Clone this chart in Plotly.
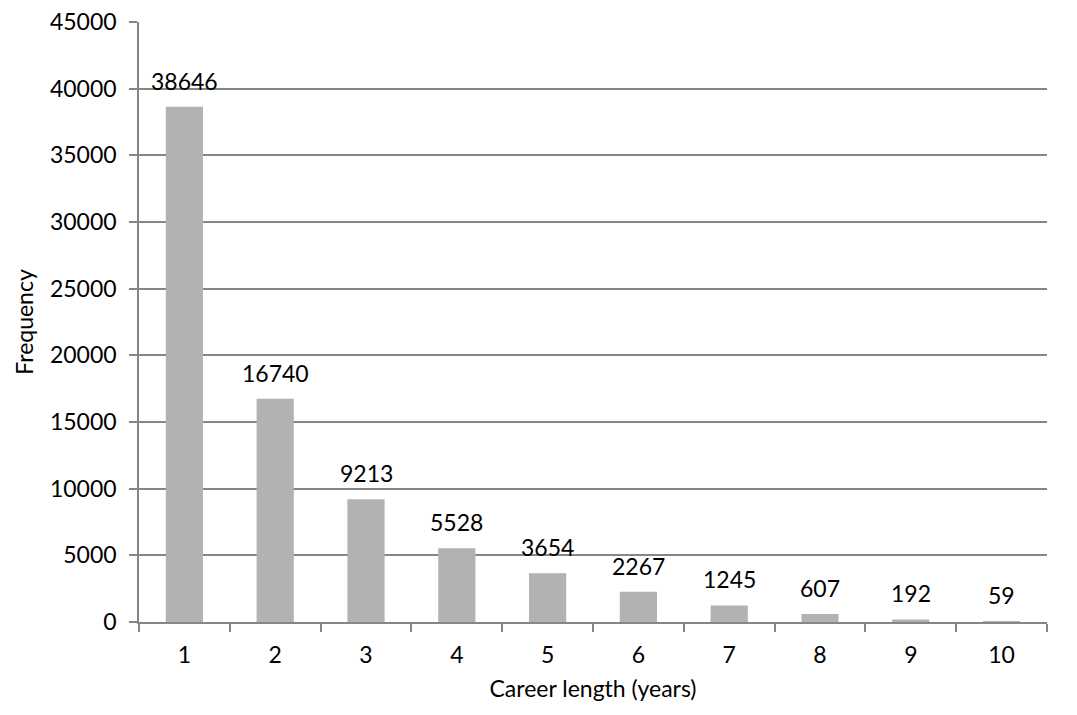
import plotly.graph_objects as go

# Career length distribution
career_years = ["1", "2", "3", "4", "5", "6", "7", "8", "9", "10"]
frequency = [38646, 16740, 9213, 5528, 3654, 2267, 1245, 607, 192, 59]
y_ticks = [0, 5000, 10000, 15000, 20000, 25000, 30000, 35000, 40000, 45000]

FONT = "Lato, Calibri, Carlito, sans-serif"
FONT_SIZE = 23
AXIS_GREY = "#868686"

fig = go.Figure(
    go.Bar(
        x=career_years,
        y=frequency,
        marker=dict(color="#B2B2B2", line=dict(width=0)),
        width=0.41,
        hoverinfo="x+y",
    )
)

# value labels above each bar (category axis positions are 0-based indices)
for idx, val in enumerate(frequency):
    fig.add_annotation(
        x=idx, y=val, text=str(val), showarrow=False,
        yanchor="middle", yshift=26,
        font=dict(family=FONT, size=FONT_SIZE, color="#000000"),
    )

fig.update_layout(
    width=1077, height=715,
    margin=dict(l=139, r=30, t=22, b=93, autoexpand=False),
    plot_bgcolor="white", paper_bgcolor="white",
    showlegend=False,
    font=dict(family=FONT, size=FONT_SIZE, color="#000000"),
    xaxis=dict(
        type="category",
        automargin=False,
        tickson="boundaries",
        ticks="outside", ticklen=8, tickwidth=1.5, tickcolor=AXIS_GREY,
        ticklabelstandoff=12,
        showline=True, linecolor=AXIS_GREY, linewidth=1.5,
        showgrid=False,
        tickfont=dict(family=FONT, size=FONT_SIZE),
        title=dict(text="Career length (years)", font=dict(family=FONT, size=FONT_SIZE), standoff=14),
    ),
    yaxis=dict(
        range=[0, 45000],
        automargin=False,
        tickvals=y_ticks,
        tickformat="d",
        ticks="outside", ticklen=8, tickwidth=1.5, tickcolor=AXIS_GREY,
        ticklabelstandoff=8,
        showline=True, linecolor=AXIS_GREY, linewidth=1.5,
        showgrid=True, gridcolor=AXIS_GREY, gridwidth=1.5,
        zeroline=False,
        tickfont=dict(family=FONT, size=FONT_SIZE),
        title=dict(text="Frequency", font=dict(family=FONT, size=FONT_SIZE), standoff=10),
    ),
)

fig.write_html("out.html")
